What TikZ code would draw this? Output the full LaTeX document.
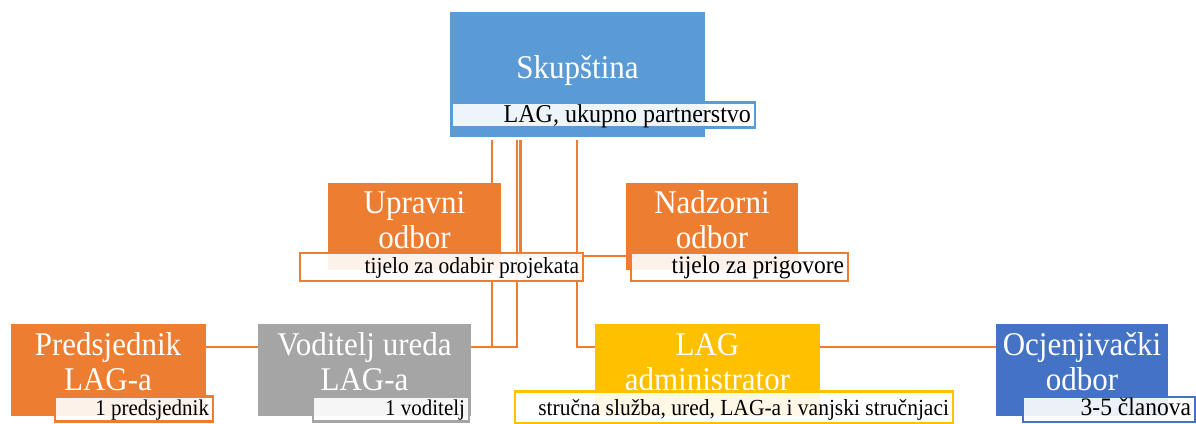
\documentclass[tikz,border=0pt]{standalone}
\usepackage{graphicx}
\usepackage{fontspec}
\setmainfont{Liberation Serif}
\definecolor{cSkup}{HTML}{5B9BD5}
\definecolor{cOrange}{HTML}{ED7D31}
\definecolor{cGray}{HTML}{A5A5A5}
\definecolor{cGold}{HTML}{FFC000}
\definecolor{cBlue}{HTML}{4472C4}
\tikzset{
  unit/.style={rectangle, inner sep=0pt, text=white,
    font=\fontsize{31}{33}\selectfont},
  tag/.style={rectangle, draw=#1, line width=2.2pt, fill=white, fill opacity=0.9,
    text opacity=1, text=black, inner xsep=4pt, inner ysep=0pt, align=flush right},
  link/.style={draw=cOrange, line width=2.2pt}
}
\newcommand{\vst}[1]{\scalebox{1}[1.07]{#1}}
\newcommand{\twolines}[2]{\vst{\begin{tabular}[t]{@{}c@{}}#1\\#2\end{tabular}}}
\pgfdeclarelayer{back}
\pgfsetlayers{back,main}
\begin{document}
\begin{tikzpicture}[x=1pt, y=-1pt]
\useasboundingbox (0,0) rectangle (1196,423);
% connector x positions
\coordinate (xA) at (492,0);
\coordinate (xB) at (517,0);
\coordinate (xC) at (520.5,0);
\coordinate (xD) at (577,0);

% boxes
\node[unit, fill=cSkup, minimum width=255pt, minimum height=125pt,
  text height=22pt, text depth=15pt] (skup) at (577.5,74.5) {\vst{Skupština}};
\node[unit, fill=cOrange, minimum width=173pt, minimum height=87pt,
  text height=20pt, text depth=47pt] (upr) at (414.5,226.5) {\twolines{Upravni}{odbor}};
\node[unit, fill=cOrange, minimum width=172pt, minimum height=87pt,
  text height=20pt, text depth=47pt] (nad) at (712,226.5) {\twolines{Nadzorni}{odbor}};
\node[unit, fill=cOrange, minimum width=195pt, minimum height=92pt,
  text height=20pt, text depth=50pt] (pred) at (108,370) {\twolines{Predsjednik}{LAG-a}};
\node[unit, fill=cGray, minimum width=213pt, minimum height=92pt,
  text height=20pt, text depth=50pt] (vod) at (364.5,370) {\twolines{Voditelj ureda}{LAG-a}};
\node[unit, fill=cGold, minimum width=225pt, minimum height=92pt,
  text height=20pt, text depth=50pt] (adm) at (707.5,370) {\twolines{LAG}{administrator}};
\node[unit, fill=cBlue, minimum width=172pt, minimum height=92pt,
  text height=20pt, text depth=50pt] (ocj) at (1082,370) {\twolines{Ocjenjivački}{odbor}};

% labels
\node[tag=cSkup, font=\fontsize{24}{26}\selectfont, minimum height=25pt,
  text width=295pt, text height=16pt, text depth=1pt] (skupL) at (603.5,115) {\vst{LAG, ukupno partnerstvo}};
\node[tag=cOrange, font=\fontsize{21.5}{24}\selectfont, minimum height=28pt,
  text width=275pt, text height=14pt, text depth=2pt] (uprL) at (441.5,267) {\vst{tijelo za odabir projekata}};
\node[tag=cOrange, font=\fontsize{23.5}{26}\selectfont, minimum height=28pt,
  text width=209pt, text height=14pt, text depth=2pt] (nadL) at (739.5,267) {\vst{tijelo za prigovore}};
\node[tag=cOrange, font=\fontsize{21}{24}\selectfont, minimum height=25pt,
  text width=150pt, text height=13pt, text depth=1pt] (predL) at (134,409) {\vst{1 predsjednik}};
\node[tag=cGray, font=\fontsize{21}{24}\selectfont, minimum height=25pt,
  text width=148pt, text height=13pt, text depth=1pt] (vodL) at (391,409) {\vst{1 voditelj}};
\node[tag=cGold, font=\fontsize{21.5}{24}\selectfont, minimum height=32pt,
  text width=430pt, text height=17pt, text depth=1pt] (admL) at (734,407.5) {\vst{stručna služba, ured, LAG-a i vanjski stručnjaci}};
\node[tag=cBlue, font=\fontsize{23.5}{26}\selectfont, minimum height=25pt,
  text width=164pt, text height=13pt, text depth=1pt] (ocjL) at (1109,409.5) {\vst{3-5 članova}};

% connectors on back layer
\begin{pgfonlayer}{back}
\coordinate (skupB) at ([yshift=-3pt]skup.south);
\draw[link] (skupB -| xA) -- (upr.north -| xA);
\draw[link] (uprL.south -| xA) |- ([yshift=23pt]vod.east);
\draw[link] (skupB -| xB) |- ([yshift=23pt]vod.east);
\draw[link] (skupB -| xC) |- ([yshift=-29.5pt]nad.west);
\draw[link] (skupB -| xD) |- ([yshift=23pt]adm.west);
\draw[link] ([yshift=23pt]pred.east) -- ([yshift=23pt]vod.west);
\draw[link] ([yshift=23pt]adm.east) -- ([yshift=23pt]ocj.west);
\end{pgfonlayer}
\end{tikzpicture}
\end{document}
